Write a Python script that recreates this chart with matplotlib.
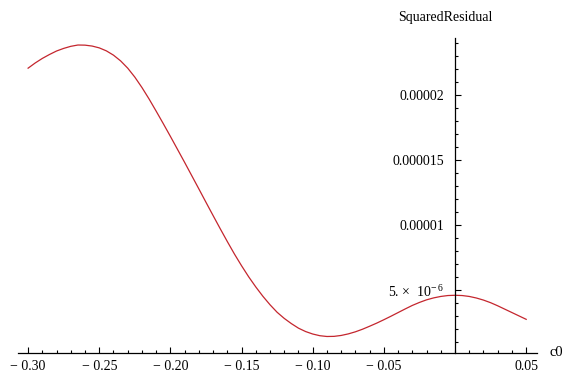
import matplotlib
matplotlib.use("Agg")
import matplotlib.pyplot as plt
import numpy as np
from matplotlib.ticker import MultipleLocator, FixedLocator, FixedFormatter

# curve (c0, squared residual in units of 1e-6)
c0 = [-0.300, -0.295, -0.290, -0.285, -0.280, -0.275, -0.270, -0.265,
      -0.260, -0.255, -0.250, -0.245, -0.240, -0.235, -0.230, -0.225,
      -0.220, -0.215, -0.210, -0.205, -0.200, -0.195, -0.190, -0.185,
      -0.180, -0.175, -0.170, -0.165, -0.160, -0.155, -0.150, -0.145,
      -0.140, -0.135, -0.130, -0.125, -0.120, -0.115, -0.110, -0.105,
      -0.100, -0.095, -0.090, -0.085, -0.080, -0.075, -0.070, -0.065,
      -0.060, -0.055, -0.050, -0.045, -0.040, -0.035, -0.030, -0.025,
      -0.020, -0.015, -0.010, -0.005, 0.000, 0.005, 0.010, 0.015,
      0.020, 0.025, 0.030, 0.035, 0.040, 0.045, 0.050]
resid_e6 = [22.10, 22.50, 22.85, 23.15, 23.42, 23.62, 23.78, 23.88,
            23.87, 23.80, 23.66, 23.43, 23.10, 22.66, 22.10, 21.41,
            20.61, 19.73, 18.79, 17.83, 16.85, 15.85, 14.85, 13.83,
            12.81, 11.78, 10.76, 9.75, 8.76, 7.80, 6.90, 6.05,
            5.27, 4.55, 3.90, 3.32, 2.85, 2.45, 2.10, 1.84,
            1.65, 1.52, 1.46, 1.47, 1.54, 1.66, 1.82, 2.02,
            2.25, 2.49, 2.75, 3.02, 3.30, 3.58, 3.85, 4.08,
            4.28, 4.43, 4.54, 4.61, 4.63, 4.61, 4.54, 4.42,
            4.26, 4.06, 3.82, 3.56, 3.30, 3.04, 2.78]

x_ticks = [-0.30, -0.25, -0.20, -0.15, -0.10, -0.05, 0.05]
x_labels = ["\u2212 0.30", "\u2212 0.25", "\u2212 0.20", "\u2212 0.15",
            "\u2212 0.10", "\u2212 0.05", "0.05"]
y_ticks = [5e-6, 1e-5, 1.5e-5, 2e-5]
y_labels = ["5. \u00d7  10$^{\u2212\\,6}$", "0.00001", "0.000015", "0.00002"]

plt.rcParams['font.family'] = ['Liberation Serif', 'DejaVu Serif']
plt.rcParams['mathtext.fontset'] = 'custom'
plt.rcParams['mathtext.rm'] = 'Liberation Serif'

fig = plt.figure(figsize=(5.65, 3.74), dpi=100)
ax = fig.add_axes([18 / 565, 1 - 353 / 374, (537 - 18) / 565, (353 - 38) / 374])

y = np.array(resid_e6) * 1e-6
ax.plot(c0, y, color='#c4262e', lw=0.9)

ax.set_xlim(-0.3071, 0.0576)
ax.set_ylim(0.19e-6, 24.42e-6)

for s in ['top', 'right']:
    ax.spines[s].set_visible(False)
ax.spines['left'].set_position(('data', 0))
ax.spines['left'].set_linewidth(0.9)
ax.spines['bottom'].set_linewidth(0.9)

ax.xaxis.set_major_locator(FixedLocator(x_ticks))
ax.xaxis.set_major_formatter(FixedFormatter(x_labels))
ax.xaxis.set_minor_locator(MultipleLocator(0.01))
ax.yaxis.set_major_locator(FixedLocator(y_ticks))
ax.yaxis.set_major_formatter(FixedFormatter(y_labels))
ax.yaxis.set_minor_locator(MultipleLocator(1e-6))

ax.tick_params(which='both', direction='in', width=0.8, labelsize=10, color='black')
ax.tick_params(which='major', length=4)
ax.tick_params(which='minor', length=2.3)
ax.tick_params(axis='x', which='major', pad=5)
ax.tick_params(axis='y', which='major', pad=8)

ax.text(-0.0065, 1.045, "SquaredResidual", transform=ax.get_xaxis_transform(),
        ha='center', va='bottom', fontsize=10)
ax.text(1.025, 0, "c0", transform=ax.transAxes, ha='left', va='center', fontsize=10.5)

fig.savefig("out.png", dpi=100)
